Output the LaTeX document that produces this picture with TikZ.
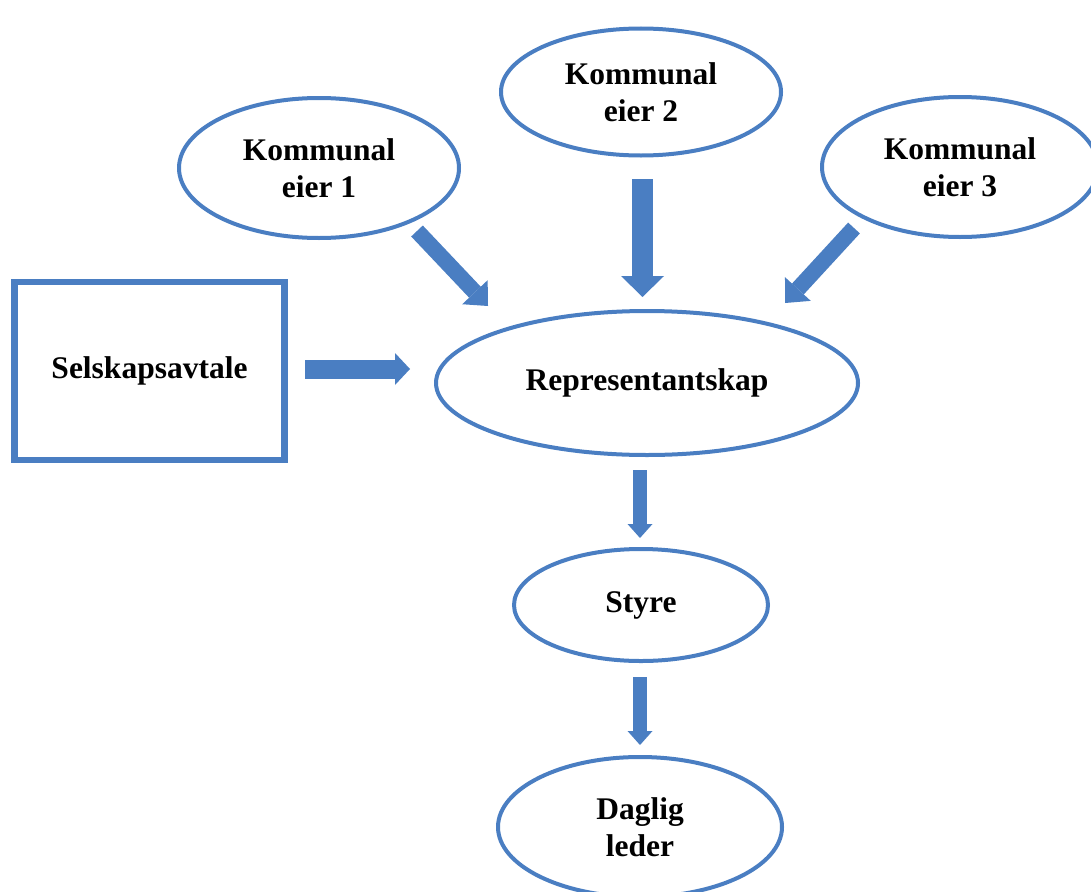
\documentclass[tikz,border=0pt]{standalone}
\usepackage{fontspec}
\setmainfont{Liberation Serif}
\usetikzlibrary{shapes.geometric,arrows.meta}
\definecolor{ablue}{HTML}{4A7EC2}
\tikzset{
  oval/.style={ellipse, draw=ablue, line width=4pt, inner sep=0pt, align=center,
    font=\fontsize{31.5}{37}\selectfont\bfseries},
  boxnode/.style={rectangle, draw=ablue, line width=6.5pt, inner sep=0pt, align=center,
    font=\fontsize{31.5}{37}\selectfont\bfseries},
  bigarrow/.style={draw=ablue, line width=21pt,
    -{Triangle[width=43pt,length=21pt,line width=0pt]}},
  midarrow/.style={draw=ablue, line width=16pt,
    -{Triangle[width=35pt,length=19pt,line width=0pt]}},
  sidearrow/.style={draw=ablue, line width=19pt,
    -{Triangle[width=32pt,length=15pt,line width=0pt]}},
  smallarrow/.style={draw=ablue, line width=14pt,
    -{Triangle[width=25pt,length=14pt,line width=0pt]}}
}
\begin{document}
\begin{tikzpicture}[x=1pt,y=-1pt]
\useasboundingbox (0,0) rectangle (1091,891);
\node[oval, minimum width=280pt, minimum height=140pt] (e1) at (319,168) {Kommunal\\eier 1};
\node[oval, minimum width=280pt, minimum height=127pt] (e2) at (641,92) {Kommunal\\eier 2};
\node[oval, minimum width=276pt, minimum height=140pt] (e3) at (960,167) {Kommunal\\eier 3};
\node[boxnode, minimum width=270pt, minimum height=178pt] (sa) at (149.5,371) {Selskapsavtale};
\node[oval, minimum width=422pt, minimum height=144pt] (rep) at (647,383) {Representantskap};
\node[oval, minimum width=254pt, minimum height=112pt] (sty) at (641,605) {Styre};
\node[oval, minimum width=284pt, minimum height=140pt] (dl) at (640,827) {Daglig\\leder};

\coordinate (a1s) at (417,231);
\coordinate (a1e) at (488,306);
\coordinate (a2s) at (642.5,179);
\coordinate (a2e) at (642.5,297);
\coordinate (a3s) at (854,228);
\coordinate (a3e) at (785,303);
\coordinate (a4s) at (305,369);
\coordinate (a4e) at (410,369);
\coordinate (a5s) at (640,470);
\coordinate (a5e) at (640,538);
\coordinate (a6s) at (640,677);
\coordinate (a6e) at (640,745);

\draw[midarrow] (a1s) -- (a1e);
\draw[bigarrow] (a2s) -- (a2e);
\draw[midarrow] (a3s) -- (a3e);
\draw[sidearrow] (a4s) -- (a4e);
\draw[smallarrow] (a5s) -- (a5e);
\draw[smallarrow] (a6s) -- (a6e);
\end{tikzpicture}
\end{document}
